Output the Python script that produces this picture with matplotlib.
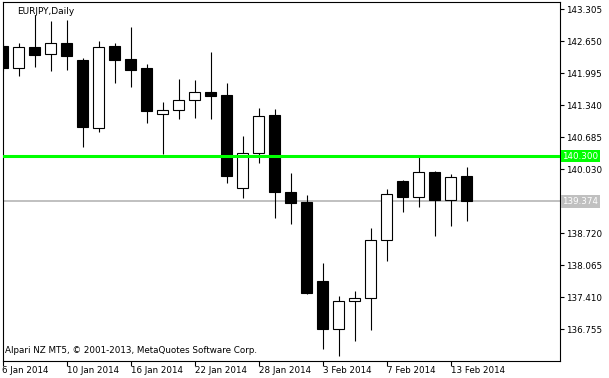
import matplotlib
matplotlib.use("Agg")
import matplotlib.pyplot as plt

plt.rcParams['font.family'] = ['DejaVu Sans']

# ---- data (EURJPY daily, 6 Jan 2014 - 14 Feb 2014) ----
opens = [142.554, 142.110, 142.533, 142.384, 142.621, 142.267, 140.869, 142.560, 142.288, 142.097,
         141.156, 141.237, 141.442, 141.606, 141.551, 139.641, 140.357, 141.141, 139.565, 139.360,
         137.743, 136.754, 137.328, 137.389, 138.582, 139.790, 139.469, 139.974, 139.407, 139.893]
highs = [142.620, 142.621, 143.188, 143.065, 143.086, 142.314, 142.662, 142.621, 142.949, 142.179,
         141.401, 141.878, 141.858, 142.431, 141.796, 140.711, 141.285, 141.264, 139.954, 139.497,
         138.105, 137.430, 137.532, 138.828, 139.626, 139.811, 140.288, 139.995, 139.933, 140.083]
lows = [142.050, 141.940, 142.130, 142.048, 142.062, 140.492, 140.799, 141.802, 141.721, 140.977,
        140.340, 141.053, 141.074, 141.053, 139.755, 139.448, 140.165, 139.039, 138.904, 137.471,
        136.345, 136.214, 136.521, 136.734, 138.154, 139.162, 139.264, 138.670, 138.875, 138.977]
closes = [142.110, 142.527, 142.369, 142.621, 142.355, 140.889, 142.533, 142.267, 142.062, 141.229,
          141.250, 141.448, 141.606, 141.536, 139.899, 140.357, 141.121, 139.559, 139.346, 137.491,
          136.767, 137.328, 137.389, 138.582, 139.524, 139.469, 139.974, 139.407, 139.866, 139.374]

xtick_pos = [0, 4, 8, 12, 16, 20, 24, 28]
xtick_labels = ['6 Jan 2014', '10 Jan 2014', '16 Jan 2014', '22 Jan 2014',
                '28 Jan 2014', '3 Feb 2014', '7 Feb 2014', '13 Feb 2014']
ytick_vals = [143.305, 142.650, 141.995, 141.340, 140.685, 140.030,
              138.720, 138.065, 137.410, 136.755]
ytick_labels = ['143.305', '142.650', '141.995', '141.340', '140.685', '140.030',
                '138.720', '138.065', '137.410', '136.755']
level_price = 140.300
bid_price = 139.374
ask_price = 139.410

# ---- figure ----
W, H = 609, 378
fig = plt.figure(figsize=(W / 100, H / 100), dpi=100, facecolor='white')
ax = fig.add_axes([2.5 / W, 1 - 360.7 / H, (560 - 2.5) / W, (360.7 - 2) / H])
ax.set_facecolor('white')

xs = list(range(len(opens)))
ax.vlines(xs, lows, highs, color='black', linewidth=0.8, zorder=2)
bottoms = [min(o, c) for o, c in zip(opens, closes)]
heights = [max(abs(c - o), 0.004) for o, c in zip(opens, closes)]
colors = ['white' if c >= o else 'black' for o, c in zip(opens, closes)]
ax.bar(xs, heights, bottom=bottoms, width=0.66, color=colors,
       edgecolor='black', linewidth=0.8, zorder=3)

ax.axhline(ask_price, color='#C0C0C0', linewidth=0.7, zorder=1)
ax.axhline(bid_price, color='#C0C0C0', linewidth=0.7, zorder=1)
ax.axhline(level_price, color='#00FF00', linewidth=2.2, zorder=4)

ax.set_xlim(0, (560 - 2.5) / 16)
ax.set_ylim(136.112, 143.454)

for s in ax.spines.values():
    s.set_color('black')
    s.set_linewidth(0.8)

ax.yaxis.tick_right()
ax.set_yticks(ytick_vals)
ax.set_yticklabels(ytick_labels)
ax.tick_params(axis='y', which='both', direction='out', length=3, width=0.8,
               pad=1.5, labelsize=6.3, colors='black', left=False, right=True)

ax.set_xticks(xtick_pos)
ax.set_xticklabels(xtick_labels)
ax.tick_params(axis='x', which='both', direction='out', length=3.5, width=0.8,
               pad=0.5, labelsize=6.3, colors='black')
for lbl in ax.get_xticklabels():
    lbl.set_horizontalalignment('left')

trans = ax.get_yaxis_transform()
ax.text(1.0045, level_price, '140.300', transform=trans, ha='left', va='center',
        fontsize=6.3, color='white', clip_on=False, zorder=6,
        bbox=dict(boxstyle='square,pad=0.2', facecolor='#00FF00', edgecolor='none'))
ax.text(1.0045, bid_price, '139.374', transform=trans, ha='left', va='center',
        fontsize=6.3, color='white', clip_on=False, zorder=6,
        bbox=dict(boxstyle='square,pad=0.2', facecolor='#C0C0C0', edgecolor='none'))

ax.text(15 / 557.5, 1 - 5 / 358.7, 'EURJPY,Daily', transform=ax.transAxes,
        ha='left', va='top', fontsize=6.5, color='black', zorder=6)
ax.text(2.5 / 557.5, (360.7 - 353) / 358.7,
        'Alpari NZ MT5, \u00a9 2001-2013, MetaQuotes Software Corp.',
        transform=ax.transAxes, ha='left', va='baseline', fontsize=6.3,
        color='black', zorder=6)

fig.savefig('out.png', dpi=100, facecolor='white')
